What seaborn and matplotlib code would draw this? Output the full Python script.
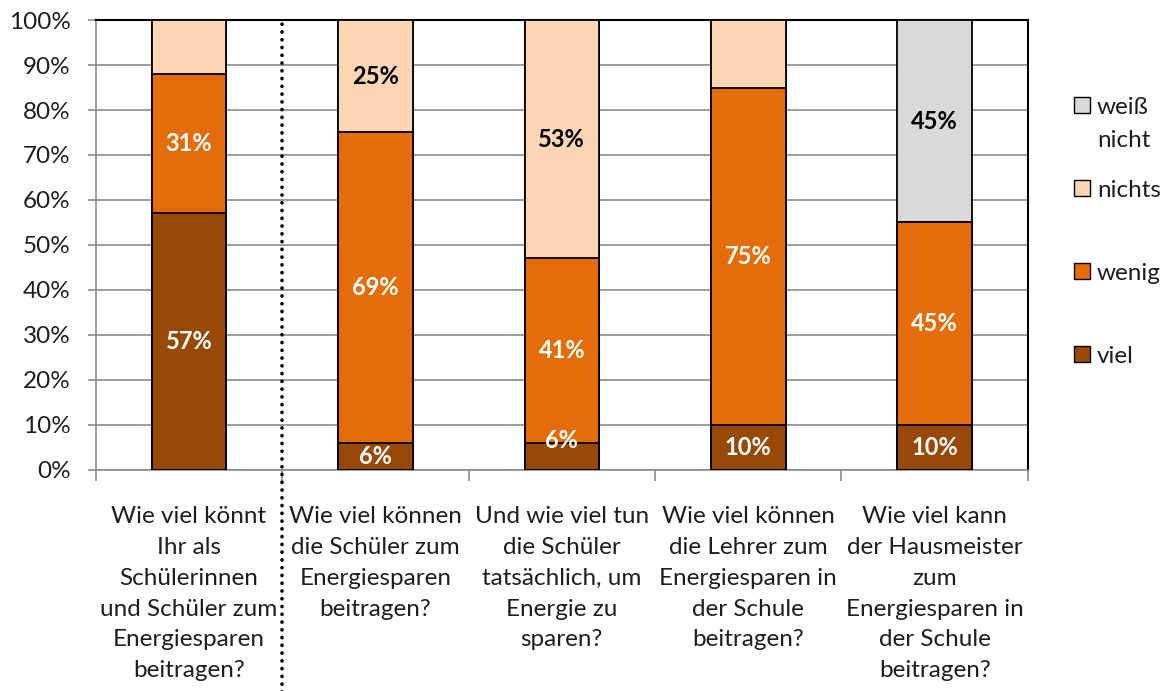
import matplotlib
matplotlib.use("Agg")
import matplotlib.pyplot as plt
import seaborn as sns
from matplotlib.patches import Patch
from matplotlib.ticker import FixedLocator

# Survey data (percent of answers per question)
questions = [
    "Wie viel könnt\nIhr als\nSchülerinnen\nund Schüler zum\nEnergiesparen\nbeitragen?",
    "Wie viel können\ndie Schüler zum\nEnergiesparen\nbeitragen?",
    "Und wie viel tun\ndie Schüler\ntatsächlich, um\nEnergie zu\nsparen?",
    "Wie viel können\ndie Lehrer zum\nEnergiesparen in\nder Schule\nbeitragen?",
    "Wie viel kann\nder Hausmeister\nzum\nEnergiesparen in\nder Schule\nbeitragen?",
]
viel = [57, 6, 6, 10, 10]
wenig = [31, 69, 41, 75, 45]
nichts = [12, 25, 53, 15, 0]
weiss_nicht = [0, 0, 0, 0, 45]

# which segments carry a value label
show_viel = [True, True, True, True, True]
show_wenig = [True, True, True, True, True]
show_nichts = [False, True, True, False, False]
show_weiss = [False, False, False, False, True]

y_ticks = list(range(0, 101, 10))
legend_names = ["weiß", "nichts", "wenig", "viel"]

col_viel = "#984807"
col_wenig = "#E46C0A"
col_nichts = "#FCD5B5"
col_weiss = "#D9D9D9"
text_col = "#1e1e1e"
FS = 17.5

sns.set_theme(style="white")
plt.rcParams["font.family"] = ["Lato", "DejaVu Sans"]

fig = plt.figure(figsize=(11.68, 6.91), dpi=100)
ax = fig.add_axes([0.082, 0.320, 0.798, 0.651])

# stacked bars: draw cumulative totals from the top series downwards
series = [
    (viel, col_viel, show_viel, "white"),
    (wenig, col_wenig, show_wenig, "white"),
    (nichts, col_nichts, show_nichts, "black"),
    (weiss_nicht, col_weiss, show_weiss, "black"),
]
cums = []
run = [0] * len(questions)
for vals, *_ in series:
    run = [r + v for r, v in zip(run, vals)]
    cums.append(run)

for (vals, col, _, _), cum in reversed(list(zip(series, cums))):
    sns.barplot(x=questions, y=cum, order=questions, color=col, saturation=1,
                width=0.4, edgecolor="black", linewidth=1.3, ax=ax, zorder=3)

# value labels centred in each segment (small offset where a segment is thin)
label_shift = {(0, 2): 3.5}
bottoms = [0] * len(questions)
for si, ((vals, col, shows, tcol), cum) in enumerate(zip(series, cums)):
    for i, (v, s) in enumerate(zip(vals, shows)):
        if s and v > 0:
            yc = bottoms[i] + v / 2 + label_shift.get((si, i), 0)
            ax.text(i, yc, f"{v}%", ha="center", va="center", fontsize=17,
                    fontweight="bold", color=tcol, zorder=5)
    bottoms = cum

ax.set_ylim(0, 100)
ax.set_xlim(-0.5, 4.5)
ax.set_yticks(y_ticks)
ax.set_yticklabels([f"{t}%" for t in y_ticks], fontsize=FS, color=text_col)
ax.set_xlabel("")
ax.set_ylabel("")
ax.yaxis.grid(True, color="#8c8c8c", linewidth=1.2, zorder=0)
ax.set_axisbelow(True)

for lab in ax.get_xticklabels():
    lab.set_linespacing(1.58)
    lab.set_fontsize(FS)
    lab.set_color(text_col)

ax.tick_params(axis="x", which="major", length=0, pad=26)
ax.xaxis.set_minor_locator(FixedLocator([-0.5, 0.5, 1.5, 2.5, 3.5, 4.5]))
ax.tick_params(axis="x", which="minor", length=8, width=1.2, color="#8c8c8c",
               bottom=True, direction="out")
ax.tick_params(axis="y", which="major", length=6, width=1.2, color="#8c8c8c",
               left=True, direction="out", pad=12)

for side in ["left", "bottom"]:
    ax.spines[side].set_color("#8c8c8c")
    ax.spines[side].set_linewidth(1.2)
for side in ["top", "right"]:
    ax.spines[side].set_color("black")
    ax.spines[side].set_linewidth(1.5)

# dotted separator between the first and the other questions
ax.axvline(0.5, ymin=-0.5, ymax=1.0, clip_on=False, color="black",
           linewidth=2.6, linestyle=(0, (0.05, 2.1)), dash_capstyle="round",
           zorder=6)

handles = [Patch(facecolor=c, edgecolor="black", linewidth=1.0)
           for c in [col_weiss, col_nichts, col_wenig, col_viel]]
leg = fig.legend(handles, legend_names, loc="upper left",
                 bbox_to_anchor=(1064 / 1168, 1 - 87 / 691), frameon=False,
                 fontsize=FS, handlelength=0.65, handleheight=0.65,
                 handletextpad=0.3, labelspacing=2.55, borderaxespad=0)
fig.canvas.draw()
t0 = leg.get_texts()[0]
bb = t0.get_window_extent()
fig.text(bb.x0 / fig.bbox.width, (bb.y0 - 33) / fig.bbox.height, "nicht",
         fontsize=FS, color=text_col, ha="left", va="bottom")
for t in leg.get_texts():
    t.set_color(text_col)

fig.savefig("out.png", dpi=100)
